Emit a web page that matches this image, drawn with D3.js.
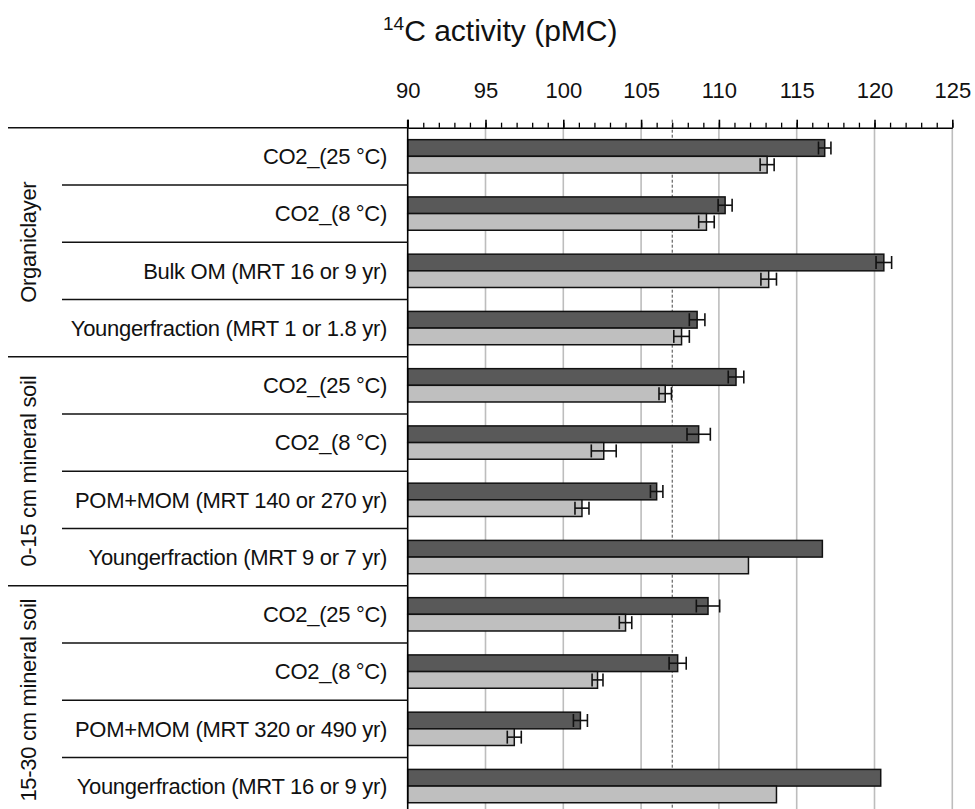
<!DOCTYPE html>
<html>
<head>
<meta charset="utf-8">
<script src="https://cdn.jsdelivr.net/npm/d3@7"></script>
<style>
  body { margin: 0; background: #fff; }
  svg text { font-family: "Liberation Sans", Arial, sans-serif; fill: #111; }
</style>
</head>
<body>
<div id="chart"></div>
<script>
// the data
const groups = ['Organiclayer', '0-15 cm mineral soil', '15-30 cm mineral soil']
const rowGroup = [0, 0, 0, 0, 1, 1, 1, 1, 2, 2, 2, 2]
const rowLabels = [
  'CO2_(25 °C)', 'CO2_(8 °C)', 'Bulk OM (MRT 16 or 9 yr)', 'Youngerfraction (MRT 1 or 1.8 yr)',
  'CO2_(25 °C)', 'CO2_(8 °C)', 'POM+MOM (MRT 140 or 270 yr)', 'Youngerfraction (MRT 9 or 7 yr)',
  'CO2_(25 °C)', 'CO2_(8 °C)', 'POM+MOM (MRT 320 or 490 yr)', 'Youngerfraction (MRT 16 or 9 yr)'
]
const darkValues = [116.8, 110.4, 120.6, 108.6, 111.1, 108.7, 106.0, 116.65, 109.3, 107.35, 101.1, 120.4]
const darkErrors = [0.4, 0.45, 0.5, 0.5, 0.5, 0.75, 0.4, null, 0.75, 0.55, 0.45, null]
const lightValues = [113.1, 109.2, 113.2, 107.6, 106.55, 102.6, 101.2, 111.9, 104.0, 102.2, 96.85, 113.7]
const lightErrors = [0.45, 0.5, 0.5, 0.5, 0.4, 0.8, 0.45, null, 0.4, 0.35, 0.45, null]
const xTicks = [90, 95, 100, 105, 110, 115, 120, 125]
const refValue = 107

const width = 975, height = 809
const plotLeft = 407.7, plotRight = 952.3, plotTop = 127.7, rowStep = 57.25

const svg = d3.select('#chart').append('svg')
  .attr('width', width)
  .attr('height', height)

const x = d3.scaleLinear().domain([90, 125]).range([plotLeft, plotRight])

const y = d3.scaleBand()
  .domain(d3.range(rowLabels.length))
  .range([plotTop, plotTop + rowStep * rowLabels.length])
  .paddingInner(0.418)
  .paddingOuter(0.209)

const sub = d3.scaleBand().domain(['dark', 'light']).range([0, y.bandwidth()])

// grid lines
svg.append('g')
  .selectAll('line')
  .data(xTicks.slice(1))
  .enter().append('line')
  .attr('x1', d => x(d)).attr('x2', d => x(d))
  .attr('y1', plotTop).attr('y2', height)
  .attr('stroke', '#bdbdbd')
  .attr('stroke-width', 1.6)

// dashed reference line
svg.append('line')
  .attr('x1', x(refValue)).attr('x2', x(refValue))
  .attr('y1', plotTop - 8).attr('y2', height)
  .attr('stroke', '#444')
  .attr('stroke-width', 1)
  .attr('stroke-dasharray', '3,2')

// minor ticks
svg.append('g')
  .attr('transform', `translate(0,${plotTop})`)
  .call(d3.axisTop(x).tickValues(d3.range(90, 126, 1)).tickSize(5).tickFormat(''))
  .call(g => g.select('.domain').remove())
  .selectAll('line').attr('stroke', '#000').attr('stroke-width', 1.3)

// major ticks + labels
svg.append('g')
  .attr('transform', `translate(0,${plotTop})`)
  .call(d3.axisTop(x).tickValues(xTicks).tickSize(8).tickSizeOuter(0).tickPadding(22))
  .call(g => g.select('.domain').attr('stroke', '#000').attr('stroke-width', 1.6))
  .call(g => g.selectAll('line').attr('stroke', '#000').attr('stroke-width', 1.6))
  .call(g => g.selectAll('text').attr('font-size', 22).attr('fill', '#111'))

// title
const title = svg.append('text')
  .attr('x', 383).attr('y', 41)
  .attr('font-size', 30)
title.append('tspan').text('14').attr('font-size', 19).attr('dy', -11)
title.append('tspan').text('C activity (pMC)').attr('dy', 11)

// bars
const rows = svg.append('g').selectAll('g')
  .data(rowLabels.map((d, i) => i))
  .enter().append('g')
  .attr('transform', i => `translate(0,${y(i)})`)

const series = [
  { key: 'dark', values: darkValues, errors: darkErrors, fill: '#595959' },
  { key: 'light', values: lightValues, errors: lightErrors, fill: '#bfbfbf' }
]

series.forEach(s => {
  rows.append('rect')
    .attr('x', x(90))
    .attr('y', sub(s.key))
    .attr('width', i => x(s.values[i]) - x(90))
    .attr('height', sub.bandwidth())
    .attr('fill', s.fill)
    .attr('stroke', '#111')
    .attr('stroke-width', 1.5)

  const eb = rows.filter(i => s.errors[i] != null).append('g')
    .attr('stroke', '#111')
    .attr('stroke-width', 1.6)
  const cy = sub(s.key) + sub.bandwidth() / 2
  eb.append('line')
    .attr('x1', i => x(s.values[i] - s.errors[i]))
    .attr('x2', i => x(s.values[i] + s.errors[i]))
    .attr('y1', cy).attr('y2', cy)
  eb.append('line')
    .attr('x1', i => x(s.values[i] - s.errors[i]))
    .attr('x2', i => x(s.values[i] - s.errors[i]))
    .attr('y1', cy - 6.5).attr('y2', cy + 6.5)
  eb.append('line')
    .attr('x1', i => x(s.values[i] + s.errors[i]))
    .attr('x2', i => x(s.values[i] + s.errors[i]))
    .attr('y1', cy - 6.5).attr('y2', cy + 6.5)
})

// y axis line
svg.append('line')
  .attr('x1', plotLeft).attr('x2', plotLeft)
  .attr('y1', plotTop - 8).attr('y2', height)
  .attr('stroke', '#000').attr('stroke-width', 1.6)

// row separators and labels on the left
const rowTop = i => plotTop + rowStep * i
svg.append('g').selectAll('line')
  .data(d3.range(rowLabels.length + 1))
  .enter().append('line')
  .attr('x1', i => (i % 4 === 0) ? 8 : 62)
  .attr('x2', plotLeft)
  .attr('y1', rowTop).attr('y2', rowTop)
  .attr('stroke', '#111').attr('stroke-width', 1.6)

svg.append('g').selectAll('text')
  .data(rowLabels)
  .enter().append('text')
  .attr('x', 387)
  .attr('y', (d, i) => rowTop(i) + rowStep / 2)
  .attr('dy', '0.36em')
  .attr('text-anchor', 'end')
  .attr('font-size', 22)
  .attr('letter-spacing', -0.3)
  .text(d => d)

svg.append('g').selectAll('text')
  .data(groups)
  .enter().append('text')
  .attr('transform', (d, g) => {
    const idx = rowGroup.map((v, i) => v === g ? i : -1).filter(i => i >= 0)
    const cy = (rowTop(idx[0]) + rowTop(idx[idx.length - 1] + 1)) / 2
    return `translate(28,${cy}) rotate(-90)`
  })
  .attr('dy', '0.36em')
  .attr('text-anchor', 'middle')
  .attr('font-size', 22)
  .attr('letter-spacing', -0.3)
  .text(d => d)
</script>
</body>
</html>
